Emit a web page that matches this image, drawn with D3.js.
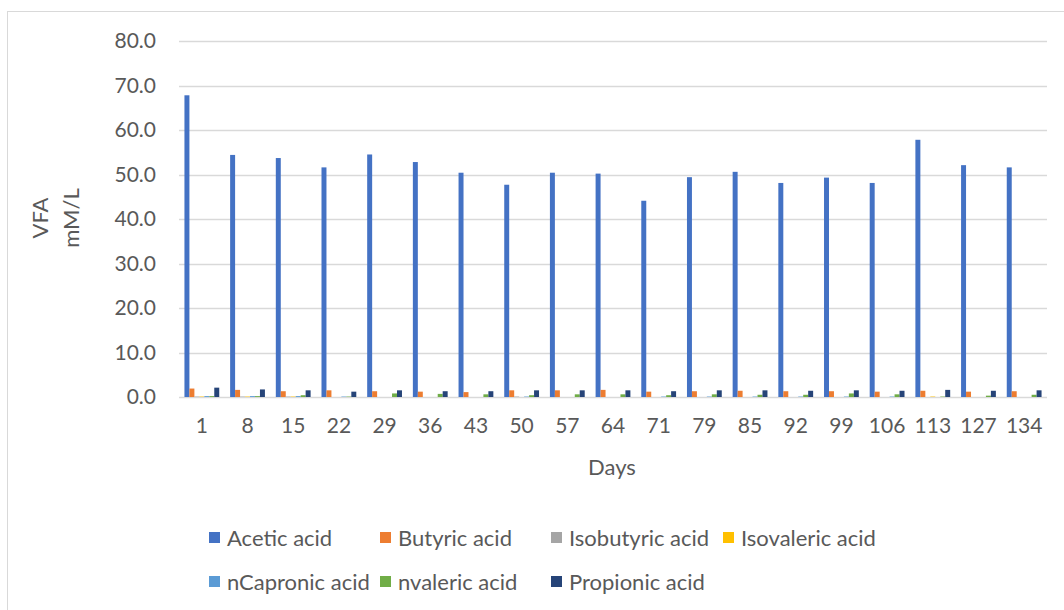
<!DOCTYPE html>
<html>
<head>
<meta charset="utf-8">
<script src="https://cdn.jsdelivr.net/npm/d3@7/dist/d3.min.js"></script>
<style>
  html, body { margin: 0; padding: 0; background: #fff; }
  svg { display: block; font-family: Lato, "Open Sans", sans-serif; }
</style>
</head>
<body>
<svg id="chart" width="1064" height="610"></svg>
<script>
// Sampling days
const days = ["1","8","15","22","29","36","43","50","57","64","71","79","85","92","99","106","113","127","134"];

// VFA concentrations (mM/L) per sampling day
const aceticAcid     = [67.8,54.4,53.7,51.6,54.5,52.8,50.4,47.7,50.4,50.2,44.1,49.4,50.6,48.1,49.3,48.1,57.8,52.1,51.6];
const butyricAcid    = [1.9,1.6,1.3,1.5,1.3,1.2,1.1,1.5,1.5,1.6,1.2,1.3,1.4,1.3,1.3,1.2,1.4,1.2,1.3];
const isobutyricAcid = [0.1,0.1,0.1,0.0,0.0,0.0,0.0,0.1,0.0,0.0,0.0,0.0,0.0,0.0,0.0,0.0,0.0,0.0,0.0];
const isovalericAcid = [0.1,0.1,0.1,0.0,0.0,0.0,0.0,0.0,0.0,0.0,0.0,0.0,0.0,0.0,0.0,0.0,0.1,0.0,0.0];
const nCapronicAcid  = [0.2,0.2,0.2,0.1,0.0,0.0,0.0,0.1,0.0,0.0,0.1,0.1,0.1,0.1,0.1,0.1,0.0,0.0,0.0];
const nvalericAcid   = [0.2,0.2,0.4,0.1,0.8,0.7,0.6,0.4,0.6,0.6,0.4,0.6,0.5,0.5,0.8,0.6,0.1,0.3,0.5];
const propionicAcid  = [2.1,1.7,1.5,1.2,1.5,1.3,1.3,1.5,1.5,1.5,1.3,1.5,1.5,1.4,1.5,1.4,1.6,1.4,1.5];

const yTicks = [0,10,20,30,40,50,60,70,80];

const seriesNames  = ["Acetic acid","Butyric acid","Isobutyric acid","Isovaleric acid","nCapronic acid","nvaleric acid","Propionic acid"];
const seriesValues = [aceticAcid,butyricAcid,isobutyricAcid,isovalericAcid,nCapronicAcid,nvalericAcid,propionicAcid];
const seriesColors = ["#4472C4","#ED7D31","#A5A5A5","#FFC000","#5B9BD5","#70AD47","#264478"];

const svg = d3.select("#chart");
const textColor = "#595959";
const gridColor = "#d9d9d9";
const tickFont = 21;
const labelFont = 22;

// outer chart frame
svg.append("rect")
  .attr("x", 7.5).attr("y", 11.5)
  .attr("width", 1070).attr("height", 620)
  .attr("fill", "#fff").attr("stroke", gridColor).attr("stroke-width", 1);

const plot = { left: 179, right: 1047, top: 41, bottom: 397 };

const x = d3.scaleBand().domain(days).range([plot.left, plot.right]).padding(0);
const y = d3.scaleLinear().domain([0, 80]).range([plot.bottom, plot.top]);

// bar layout within each day: 7 bars plus a 219% gap
const gapRatio = 2.19;
const barW = x.bandwidth() / (seriesNames.length + gapRatio);
const inner = d3.scaleBand().domain(seriesNames)
  .range([barW * gapRatio / 2, barW * gapRatio / 2 + barW * seriesNames.length]);

// horizontal gridlines
svg.append("g").selectAll("line").data(yTicks).join("line")
  .attr("x1", plot.left).attr("x2", plot.right)
  .attr("y1", d => Math.round(y(d)) + 0.5).attr("y2", d => Math.round(y(d)) + 0.5)
  .attr("stroke", gridColor).attr("stroke-width", 1.5);

// y axis labels
const yAxis = d3.axisLeft(y).tickValues(yTicks).tickSize(0).tickPadding(0)
  .tickFormat(d3.format(".1f"));
const gy = svg.append("g").attr("transform", `translate(${plot.left - 23},0)`).call(yAxis);
gy.select(".domain").remove();
gy.selectAll("text").attr("fill", textColor).attr("font-size", tickFont)
  .attr("font-family", "Lato, sans-serif");

// bars
const groups = svg.append("g").selectAll("g").data(seriesNames).join("g")
  .attr("fill", (d, i) => seriesColors[i]);
groups.selectAll("rect")
  .data((name, si) => seriesValues[si].map((v, di) => ({ name, day: days[di], v })))
  .join("rect")
  .attr("x", d => x(d.day) + inner(d.name))
  .attr("width", barW)
  .attr("y", d => y(d.v))
  .attr("height", d => y(0) - y(d.v));

// x axis labels
const xAxis = d3.axisBottom(x).tickSize(0).tickPadding(0);
const gx = svg.append("g").attr("transform", `translate(0,${plot.bottom + 21})`).call(xAxis);
gx.select(".domain").remove();
gx.selectAll("text").attr("fill", textColor).attr("font-size", tickFont)
  .attr("font-family", "Lato, sans-serif");

// axis titles
svg.append("text").attr("x", 612).attr("y", 475).attr("text-anchor", "middle")
  .attr("fill", textColor).attr("font-size", labelFont).text("Days");

const yTitle = svg.append("text")
  .attr("transform", "translate(48,218) rotate(-90)")
  .attr("text-anchor", "middle").attr("fill", textColor).attr("font-size", labelFont);
yTitle.append("tspan").attr("x", 0).attr("dy", 0).text("VFA");
yTitle.append("tspan").attr("x", 0).attr("dy", 31).text("mM/L");

// legend (two rows)
const legendPos = [
  [209, 538], [380, 538], [551, 538], [723, 538],
  [209, 582], [380, 582], [551, 582]
];
const legend = svg.append("g").selectAll("g").data(seriesNames).join("g")
  .attr("transform", (d, i) => `translate(${legendPos[i][0]},${legendPos[i][1]})`);
legend.append("rect").attr("x", 0).attr("y", -6).attr("width", 11).attr("height", 11)
  .attr("fill", (d, i) => seriesColors[i]);
legend.append("text").attr("x", 18).attr("y", 0).attr("dy", "0.35em")
  .attr("fill", textColor).attr("font-size", labelFont).text(d => d);
</script>
</body>
</html>
